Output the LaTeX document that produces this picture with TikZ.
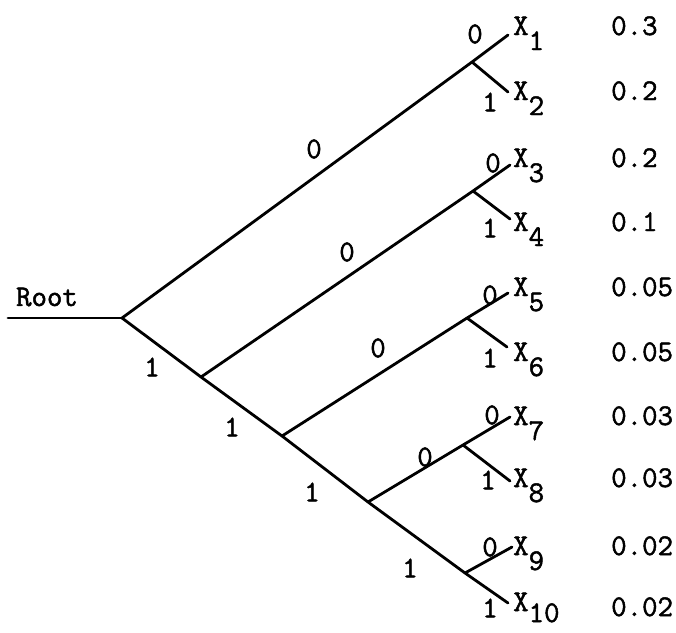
\documentclass[tikz,border=0pt]{standalone}
\usepackage{fontspec}
\newfontfamily\twfont{Latin Modern Mono}[FakeBold=1.6]
\begin{document}
\begin{tikzpicture}[x=1pt,y=-1pt,
  edge/.style={line width=2.8pt, line cap=round, line join=round},
  lbl/.style={font=\fontsize{30}{30}\selectfont\twfont, inner sep=0pt},
]
\useasboundingbox (0,0) rectangle (676,632);
% tree points
\coordinate (R0) at (8,318);
\coordinate (A) at (122,318);
\coordinate (B2) at (201,377);
\coordinate (B3) at (282,436);
\coordinate (B4) at (368,502);
\coordinate (B5) at (465,573);
\coordinate (E10) at (508,603);
\coordinate (P1) at (472,62);
\coordinate (E1) at (508,35);
\coordinate (E2) at (508,92);
\coordinate (P2) at (473,191);
\coordinate (E3) at (510,165);
\coordinate (E4) at (510,219);
\coordinate (P3) at (467,318);
\coordinate (E5) at (508,293);
\coordinate (E6) at (507,347);
\coordinate (P4) at (463,445);
\coordinate (E7) at (510,417);
\coordinate (E8) at (510,481);
\coordinate (E9) at (512,547);
% edges
\draw[edge] (R0) -- (A);
\draw[edge] (A) -- (B2) -- (B3) -- (B4) -- (B5) -- (E10);
\draw[edge] (A) -- (P1) -- (E1);
\draw[edge] (P1) -- (E2);
\draw[edge] (B2) -- (P2) -- (E3);
\draw[edge] (P2) -- (E4);
\draw[edge] (B3) -- (P3) -- (E5);
\draw[edge] (P3) -- (E6);
\draw[edge] (B4) -- (P4) -- (E7);
\draw[edge] (P4) -- (E8);
\draw[edge] (B5) -- (E9);
% root label
\node[lbl] (root) at (47,297) {Root};
% branch labels on the spine
\node[lbl] (s1) at (152,367) {1};
\node[lbl] (s2) at (232,427) {1};
\node[lbl] (s3) at (312,492) {1};
\node[lbl] (s4) at (410,568) {1};
% branch labels on the upper branches
\node[lbl] (u1) at (314,149) {0};
\node[lbl] (u2) at (347,252) {0};
\node[lbl] (u3) at (378,348) {0};
\node[lbl] (u4) at (425,457) {0};
% leaf bit labels
\node[lbl] (z1) at (475,34) {0};
\node[lbl] (o2) at (490,102) {1};
\node[lbl] (z3) at (493,163) {0};
\node[lbl] (o4) at (490,228) {1};
\node[lbl] (z5) at (490,295) {0};
\node[lbl] (o6) at (490,358) {1};
\node[lbl] (z7) at (492,415) {0};
\node[lbl] (o8) at (488,480) {1};
\node[lbl] (z9) at (490,547) {0};
\node[lbl] (o10) at (490,608) {1};
% symbols
\foreach \i/\r in {1/25,2/90,3/157,4/221,5/286,6/351,7/415,8/477,9/545}{
  \node[lbl, anchor=base west] (x\i) at (513,\r+10) {X\raisebox{-15pt}{\i}};
}
\node[lbl, anchor=base west] (x10) at (513,611) {X\raisebox{-11pt}{10}};
% probabilities
\foreach \i/\r/\p in {1/25/0.3,2/90/0.2,3/157/0.2,4/221/0.1,5/286/0.05,6/351/0.05,7/415/0.03,8/477/0.03,9/545/0.02,10/606/0.02}{
  \node[lbl, anchor=base west] (p\i) at (611,\r+10) {\p};
}
\end{tikzpicture}
\end{document}
